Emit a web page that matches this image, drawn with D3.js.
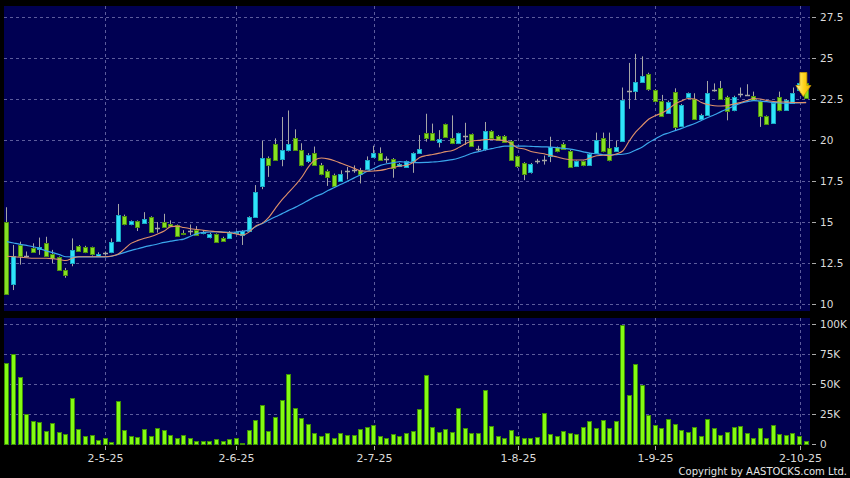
<!DOCTYPE html>
<html><head><meta charset="utf-8">
<script src="https://cdn.jsdelivr.net/npm/d3@7"></script>
<style>html,body{margin:0;padding:0;background:#000;} svg{display:block;}</style>
</head><body>
<svg id="chart" width="850" height="478"></svg>
<script>
// ---------- DATA ----------
const dates = [
"2025-04-08","2025-04-09","2025-04-10","2025-04-11","2025-04-14","2025-04-15","2025-04-16","2025-04-17","2025-04-22","2025-04-23",
"2025-04-24","2025-04-25","2025-04-28","2025-04-29","2025-04-30","2025-05-02","2025-05-06","2025-05-07","2025-05-08","2025-05-09",
"2025-05-12","2025-05-13","2025-05-14","2025-05-15","2025-05-16","2025-05-19","2025-05-20","2025-05-21","2025-05-22","2025-05-23",
"2025-05-26","2025-05-27","2025-05-28","2025-05-29","2025-05-30","2025-06-02","2025-06-03","2025-06-04","2025-06-05","2025-06-06",
"2025-06-09","2025-06-10","2025-06-11","2025-06-12","2025-06-13","2025-06-16","2025-06-17","2025-06-18","2025-06-19","2025-06-20",
"2025-06-23","2025-06-24","2025-06-25","2025-06-26","2025-06-27","2025-06-30","2025-07-02","2025-07-03","2025-07-04","2025-07-07",
"2025-07-08","2025-07-09","2025-07-10","2025-07-11","2025-07-14","2025-07-15","2025-07-16","2025-07-17","2025-07-18","2025-07-21",
"2025-07-22","2025-07-23","2025-07-24","2025-07-25","2025-07-28","2025-07-29","2025-07-30","2025-07-31","2025-08-01","2025-08-04",
"2025-08-05","2025-08-06","2025-08-07","2025-08-08","2025-08-11","2025-08-12","2025-08-13","2025-08-14","2025-08-15","2025-08-18",
"2025-08-19","2025-08-20","2025-08-21","2025-08-22","2025-08-25","2025-08-26","2025-08-27","2025-08-28","2025-08-29","2025-09-01",
"2025-09-02","2025-09-03","2025-09-04","2025-09-05","2025-09-08","2025-09-09","2025-09-10","2025-09-11","2025-09-12","2025-09-15",
"2025-09-16","2025-09-17","2025-09-18","2025-09-19","2025-09-22","2025-09-23","2025-09-24","2025-09-25","2025-09-26","2025-09-29",
"2025-09-30","2025-10-02","2025-10-03"];

const open = [15.0,11.2,13.6,12.95,13.4,13.35,13.75,13.05,12.85,12.1, 12.5,13.55,13.5,13.45,12.95,13.1,13.15,13.85,15.35,14.85,
15.05,14.95,15.3,14.65,15.0,14.85,14.8,14.35,14.45,14.5, 14.3,14.1,14.25,14.05,14.05,14.3,14.2,14.45,15.3,17.2,
18.9,19.75,18.85,19.4,20.15,19.4,18.7,19.2,18.5,18.1, 17.85,17.5,18.1,18.2,18.15,18.25,18.95,19.2,18.85,18.85,
18.4,18.35,18.75,19.2,20.4,20.45,19.9,20.95,20.15,19.8, 20.25,20.35,19.45,19.45,20.55,20.25,20.25,19.95,19.0,18.6,
18.05,18.7,18.8,19.0,19.55,19.75,19.35,18.4,18.7,18.5, 19.2,20.1,19.5,19.35,19.95,23.0,23.0,23.55,24.05,23.05,
22.4,21.65,22.9,20.85,22.6,22.5,21.3,21.55,23.05,23.2, 22.65,21.8,22.8,22.75,22.7,22.35,21.45,21.05,22.6,21.85,
22.25,23.05,23.45];
const high = [15.9,13.6,13.8,13.2,13.7,14.05,14.1,13.3,12.9,12.2, 14.0,13.6,13.55,13.5,13.15,13.2,14.0,16.1,15.45,15.1,
15.1,15.6,15.35,15.0,15.5,15.1,14.85,14.5,14.85,14.75, 14.5,14.35,14.3,14.1,14.45,14.45,14.5,15.35,17.25,19.95,
19.0,20.1,21.4,21.8,20.65,19.8,19.2,19.6,18.6,18.2, 17.95,18.15,18.35,18.45,18.3,19.0,19.65,19.55,19.0,18.9,
18.6,18.75,19.25,20.3,21.6,21.0,20.6,21.0,21.5,20.45, 21.05,20.4,19.65,21.1,20.6,20.3,20.3,20.0,19.05,18.65,
18.6,18.85,19.05,20.2,19.6,19.85,19.4,18.75,18.75,19.2, 20.45,20.45,20.45,19.95,23.2,24.7,25.25,25.1,24.1,23.1,
22.75,22.4,23.15,22.2,22.9,22.85,21.6,23.6,23.45,23.6, 22.7,22.7,23.2,23.4,22.95,22.4,21.5,22.3,22.95,22.5,
23.2,23.5,23.5];
const low = [10.55,10.85,12.4,12.85,13.15,13.0,12.95,12.5,12.05,11.6, 12.3,13.2,13.1,12.95,12.9,12.95,13.1,13.85,14.8,14.8,
14.45,14.9,14.35,14.35,14.65,14.7,14.1,14.2,14.2,14.15, 14.25,14.0,13.75,13.8,14.0,14.25,13.6,14.4,15.25,17.0,
17.75,18.75,18.4,19.3,19.35,18.4,18.6,18.45,17.85,17.2, 17.15,17.45,17.6,18.0,17.35,18.2,18.9,18.75,18.6,17.7,
18.35,18.3,18.0,19.15,19.9,19.95,19.55,20.15,19.75,19.75, 19.7,19.65,19.3,19.35,20.05,19.95,19.85,18.75,18.3,17.55,
17.95,18.55,18.5,18.65,19.25,19.4,18.3,18.35,18.4,18.45, 19.15,19.25,18.7,19.3,19.9,21.9,22.45,23.5,23.0,22.35,
21.4,21.6,20.6,20.8,22.55,21.25,21.2,21.5,22.95,22.45, 21.2,21.75,22.6,22.7,22.4,20.8,20.95,21.0,21.75,21.8,
22.2,23.0,22.5];
const close = [10.6,12.9,12.9,12.95,13.2,13.5,12.95,12.8,12.1,11.75, 13.3,13.25,13.15,13.05,13.05,13.1,13.8,15.45,14.85,15.05,
14.7,15.2,14.4,14.65,14.7,14.75,14.15,14.25,14.45,14.2, 14.4,14.25,13.8,13.87,14.35,14.4,14.45,15.3,16.8,18.9,
18.5,18.8,19.4,19.75,19.4,18.45,19.1,18.5,17.9,17.75, 17.2,17.9,18.1,18.2,17.95,18.8,19.2,18.8,18.85,18.3,
18.55,18.7,19.2,19.45,20.15,20.0,20.05,20.2,19.8,20.4, 20.25,19.65,19.45,20.55,20.1,20.0,19.9,18.8,18.4,17.95,
18.55,18.7,18.8,19.55,19.3,19.45,18.35,18.7,18.45,19.15, 20.0,19.3,18.8,19.6,22.45,23.0,23.55,23.9,23.1,22.4,
21.45,22.3,20.8,22.15,22.85,21.3,21.55,22.85,23.05,22.5, 21.75,22.65,22.8,22.75,22.45,21.45,21.0,22.25,21.8,22.45,
22.85,23.45,22.55];
// volume in thousands of shares
const volumeK = [67,74.8,56,24.4,19,18.2,10.6,16.8,9.5,7.6, 37.8,12.3,6.1,7.3,3,4.5,1.2,35.6,11.2,6.4,
5.6,12,6.4,12.6,11.2,7,5,6.7,4.2,2.5, 2.5,2.2,3.4,2.2,3.9,4.5,0.6,11.5,19.6,32,
10.3,22,36.4,58,30,21.5,16.2,8.4,6.1,9.2, 4.7,8.4,6.7,6.7,11.8,14,15.1,6.1,5,7.6,
6.4,8.4,10.1,28.5,57.6,14,9.5,11.8,9.5,29.7, 12.6,8.4,9,45,14.8,6.1,5,11.5,6.1,4.5,
4.2,5.3,25.5,7.6,5.9,10.6,8.4,7.8,13.4,18.7, 13.1,19.6,13.1,18.7,99.4,41,66.6,49,23.8,15.4,
12.6,20.4,16.2,11.2,9.8,14,6.1,20.4,13.1,7, 9.8,13.4,14.5,8.4,4.7,13.1,5,15.1,7.8,6.7,
8.4,6.1,2.5];
// moving-average lines as drawn in the reference (orange = short, blue = long)
const maShort = [12.91,12.88,12.85,12.82,12.79,12.79,12.79,12.76,12.71,12.65, 12.79,12.88,12.88,12.88,12.88,12.88,12.93,13.05,13.38,13.71,
13.88,14.01,14.12,14.27,14.45,14.72,14.75,14.66,14.59,14.54, 14.49,14.45,14.41,14.37,14.34,14.27,14.21,14.40,14.76,14.93,
15.30,15.85,16.37,16.80,17.24,17.73,18.35,18.78,18.90,18.85, 18.74,18.58,18.43,18.27,18.12,18.09,18.11,18.15,18.23,18.32,
18.41,18.46,18.63,18.93,19.05,19.12,19.20,19.29,19.36,19.55, 19.77,19.94,19.98,20.02,20.03,20.00,19.96,19.78,19.51,19.45,
19.30,19.22,19.16,19.05,18.96,18.86,18.80,18.78,18.78,18.90, 19.04,19.07,19.05,19.15,19.33,19.94,20.49,20.90,21.28,21.49,
21.65,21.89,22.20,22.38,22.53,22.50,22.29,22.16,22.09,22.07, 22.10,22.20,22.28,22.41,22.53,22.50,22.41,22.35,22.32,22.31,
22.29,22.28,22.28];
const maLong = [13.80,13.72,13.64,13.57,13.49,13.37,13.24,13.13,13.01,12.88, 12.87,12.87,12.87,12.87,12.87,12.87,12.91,13.03,13.15,13.27,
13.37,13.48,13.57,13.66,13.76,13.83,13.90,13.96,14.13,14.29, 14.37,14.39,14.41,14.39,14.37,14.39,14.45,14.50,14.73,14.91,
15.12,15.32,15.51,15.71,15.89,16.10,16.32,16.54,16.70,16.92, 17.10,17.30,17.49,17.69,17.88,18.09,18.26,18.45,18.55,18.62,
18.68,18.64,18.63,18.62,18.63,18.66,18.69,18.74,18.80,18.90, 19.04,19.19,19.29,19.39,19.47,19.56,19.63,19.63,19.63,19.63,
19.61,19.59,19.58,19.57,19.54,19.49,19.44,19.37,19.28,19.20, 19.16,19.10,19.09,19.11,19.13,19.21,19.39,19.57,19.85,20.07,
20.29,20.43,20.57,20.71,20.86,21.01,21.19,21.37,21.54,21.73, 21.90,22.07,22.24,22.34,22.40,22.37,22.34,22.29,22.26,22.24,
22.26,22.27,22.29];

const priceTicks = [10,12.5,15,17.5,20,22.5,25,27.5];
const priceTickLabels = ["10","12.5","15","17.5","20","22.5","25","27.5"];
const volumeTicks = [0,25,50,75,100];
const volumeTickLabels = ["0","25K","50K","75K","100K"];
const xTickDates = ["2025-05-02","2025-06-02","2025-07-02","2025-08-01","2025-09-01","2025-10-02"];
const xTickLabels = ["2-5-25","2-6-25","2-7-25","1-8-25","1-9-25","2-10-25"];
const arrowPrice = 22.65;   // where the yellow marker arrow points
const copyright = "Copyright by AASTOCKS.com Ltd.";

// ---------- DRAWING ----------
const W = 850, H = 478;
const svg = d3.select("#chart");
const FONT = "'DejaVu Sans', Verdana, sans-serif";
svg.append("rect").attr("width", W).attr("height", H).attr("fill", "#000");

const plotL = 4, plotR = 810;
const priceTop = 6, priceBot = 311;
const volTop = 318, volBot = 445;
const PANEL = "#000052";
const GRID = "#5c5c9c";

const x = d3.scaleBand().domain(dates).range([3.7, 809.4]).paddingInner(0.22).paddingOuter(0.11);
const xc = d => x(d) + x.bandwidth() / 2;
const yP = d3.scaleLinear().domain([10, 27.5]).range([304, 17]);
const yV = d3.scaleLinear().domain([0, 100]).range([443.5, 324]);

const data = dates.map((d, i) => ({d, o: open[i], h: high[i], l: low[i], c: close[i], v: volumeK[i], ms: maShort[i], ml: maLong[i]}));

// panels
svg.append("rect").attr("x", plotL).attr("y", priceTop).attr("width", plotR - plotL).attr("height", priceBot - priceTop).attr("fill", PANEL);
svg.append("rect").attr("x", plotL).attr("y", volTop).attr("width", plotR - plotL).attr("height", volBot - volTop).attr("fill", PANEL);

const px = v => Math.round(v) + 0.5;

// price grid + axis
const gP = svg.append("g");
gP.selectAll("line.h").data(priceTicks).join("line")
  .attr("x1", plotL).attr("x2", plotR)
  .attr("y1", d => px(yP(d))).attr("y2", d => px(yP(d)))
  .attr("stroke", GRID).attr("stroke-dasharray", "3,3").attr("stroke-width", 1);
gP.selectAll("line.t").data(priceTicks).join("line")
  .attr("x1", 812).attr("x2", 816)
  .attr("y1", d => px(yP(d))).attr("y2", d => px(yP(d)))
  .attr("stroke", "#aaa");
gP.selectAll("text").data(priceTicks).join("text")
  .attr("x", 820).attr("y", d => yP(d) + 4)
  .attr("fill", "#dcdcdc").attr("font-family", FONT).attr("font-size", "10.5px")
  .text((d, i) => priceTickLabels[i]);

// volume grid + axis
const gV = svg.append("g");
gV.selectAll("line.h").data(volumeTicks.filter(t => t > 0)).join("line")
  .attr("x1", plotL).attr("x2", plotR)
  .attr("y1", d => px(yV(d))).attr("y2", d => px(yV(d)))
  .attr("stroke", GRID).attr("stroke-dasharray", "3,3");
gV.selectAll("line.t").data(volumeTicks).join("line")
  .attr("x1", 812).attr("x2", 816)
  .attr("y1", d => px(yV(d))).attr("y2", d => px(yV(d)))
  .attr("stroke", "#aaa");
gV.selectAll("text").data(volumeTicks).join("text")
  .attr("x", 820).attr("y", d => yV(d) + 4)
  .attr("fill", "#dcdcdc").attr("font-family", FONT).attr("font-size", "10.5px")
  .text((d, i) => volumeTickLabels[i]);

// vertical grid lines (both panels) + x ticks
const gX = svg.append("g");
xTickDates.forEach((d, i) => {
  const xx = px(xc(d));
  gX.append("line").attr("x1", xx).attr("x2", xx).attr("y1", priceTop).attr("y2", priceBot)
    .attr("stroke", GRID).attr("stroke-dasharray", "3,3");
  gX.append("line").attr("x1", xx).attr("x2", xx).attr("y1", volTop).attr("y2", volBot)
    .attr("stroke", GRID).attr("stroke-dasharray", "3,3");
  gX.append("line").attr("x1", xx).attr("x2", xx).attr("y1", volBot + 1).attr("y2", volBot + 5)
    .attr("stroke", "#aaa");
  gX.append("text").attr("x", xx).attr("y", 461.5).attr("text-anchor", "middle")
    .attr("fill", "#dcdcdc").attr("font-family", FONT).attr("font-size", "11px")
    .text(xTickLabels[i]);
});

// volume bars
svg.append("g").selectAll("rect").data(data).join("rect")
  .attr("x", d => Math.round(x(d.d)) + 0.5)
  .attr("width", Math.round(x.bandwidth()) - 1)
  .attr("y", d => Math.round(yV(d.v)) + 0.5)
  .attr("height", d => Math.max(0, Math.round(yV(0)) - Math.round(yV(d.v))))
  .attr("fill", "#84fb12").attr("stroke", "#3f8f08").attr("stroke-width", 1);

// candles
const UP = "#2fe3fb", UPS = "#1aa6c2", DN = "#86e022", DNS = "#4e8f10", WICK = "#a6a6a6";
const gC = svg.append("g");
gC.selectAll("line.w").data(data).join("line")
  .attr("x1", d => px(xc(d.d) - 0.5)).attr("x2", d => px(xc(d.d) - 0.5))
  .attr("y1", d => yP(d.h)).attr("y2", d => yP(d.l))
  .attr("stroke", WICK).attr("stroke-width", 1);
gC.selectAll("rect").data(data.filter(d => d.o !== d.c)).join("rect")
  .attr("x", d => Math.round(x(d.d)) + 0.5)
  .attr("width", Math.round(x.bandwidth()) - 1)
  .attr("y", d => Math.round(yP(Math.max(d.o, d.c))) + 0.5)
  .attr("height", d => Math.max(1, Math.round(yP(Math.min(d.o, d.c))) - Math.round(yP(Math.max(d.o, d.c)))))
  .attr("fill", d => d.c > d.o ? UP : DN)
  .attr("stroke", d => d.c > d.o ? UPS : DNS).attr("stroke-width", 1);
gC.selectAll("line.doji").data(data.filter(d => d.o === d.c)).join("line")
  .attr("x1", d => Math.round(x(d.d))).attr("x2", d => Math.round(x(d.d)) + Math.round(x.bandwidth()))
  .attr("y1", d => px(yP(d.c))).attr("y2", d => px(yP(d.c)))
  .attr("stroke", WICK).attr("stroke-width", 1.5);

// moving averages
const lineS = d3.line().x(d => xc(d.d)).y(d => yP(d.ms)).curve(d3.curveMonotoneX);
const lineL = d3.line().x(d => xc(d.d)).y(d => yP(d.ml)).curve(d3.curveMonotoneX);
svg.append("path").attr("d", lineL(data)).attr("fill", "none").attr("stroke", "#3ba6ec").attr("stroke-width", 1.2);
svg.append("path").attr("d", lineS(data)).attr("fill", "none").attr("stroke", "#e0916a").attr("stroke-width", 1.1);

// yellow marker arrow
const last = dates[dates.length - 1], prev = dates[dates.length - 2];
const ax = (xc(last) + xc(prev)) / 2 + 0.5, ay = yP(arrowPrice);
const defs = svg.append("defs");
const grad = defs.append("linearGradient").attr("id", "ag").attr("x1", 0).attr("x2", 1).attr("y1", 0).attr("y2", 0);
grad.append("stop").attr("offset", "0%").attr("stop-color", "#fff59a");
grad.append("stop").attr("offset", "55%").attr("stop-color", "#ffd21a");
grad.append("stop").attr("offset", "100%").attr("stop-color", "#f0b000");
svg.append("path")
  .attr("d", `M${ax-3.5},${ay-24} L${ax+3.5},${ay-24} L${ax+3.5},${ay-11} L${ax+7.5},${ay-11} L${ax},${ay} L${ax-7.5},${ay-11} L${ax-3.5},${ay-11} Z`)
  .attr("fill", "url(#ag)").attr("stroke", "#c99a00").attr("stroke-width", 0.8);

// copyright
svg.append("text").attr("x", 847).attr("y", 475).attr("text-anchor", "end")
  .attr("fill", "#e6e6e6").attr("font-family", FONT).attr("font-size", "10px")
  .text(copyright);
</script>
</body></html>
